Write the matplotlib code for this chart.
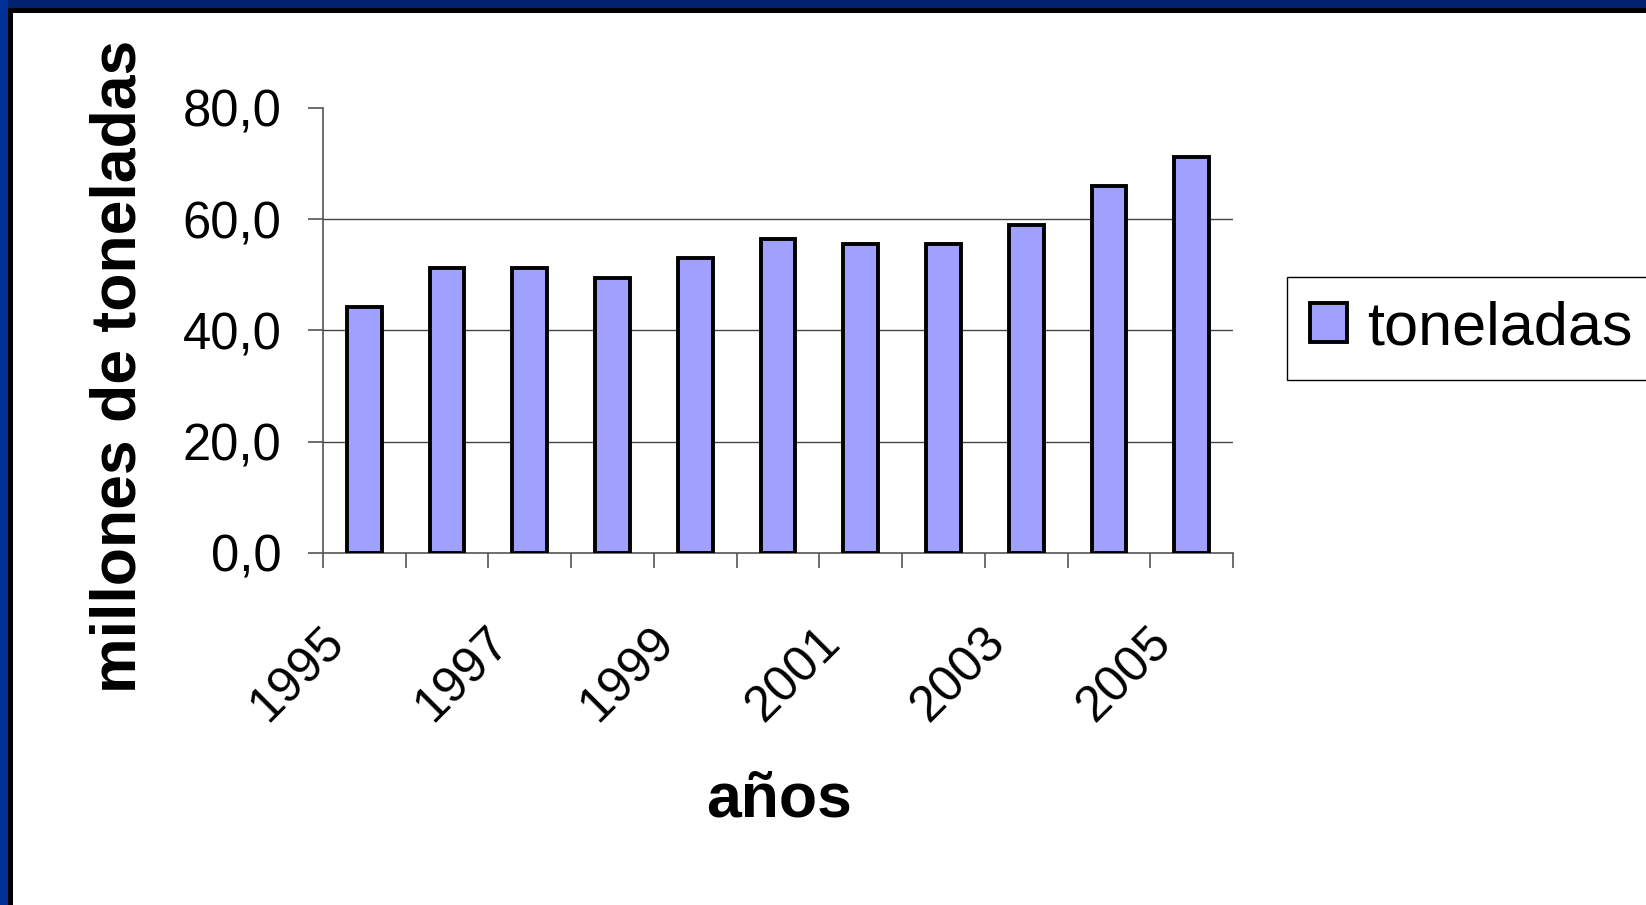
import matplotlib
matplotlib.use("Agg")
import matplotlib.pyplot as plt
from matplotlib.patches import Rectangle
import matplotlib.transforms as mtransforms

years = [1995, 1996, 1997, 1998, 1999, 2000, 2001, 2002, 2003, 2004, 2005]
toneladas = [44.3, 51.3, 51.3, 49.5, 53.0, 56.4, 55.5, 55.5, 58.9, 65.9, 71.2]
yticks = [0, 20, 40, 60, 80]
ytick_labels = ["0,0", "20,0", "40,0", "60,0", "80,0"]
xlabel_years = [1995, 1997, 1999, 2001, 2003, 2005]

plt.rcParams['font.family'] = ['Liberation Sans', 'DejaVu Sans']

W, H = 1646, 905
fig = plt.figure(figsize=(W / 100, H / 100), dpi=100)
fig.patch.set_facecolor('white')

ax = fig.add_axes([323 / W, 1 - 553 / H, (1233 - 323) / W, (553 - 108) / H])
x = list(range(len(years)))
ax.bar(x, toneladas, width=0.42, color='#A0A0FF', edgecolor='black',
       linewidth=2.8, label='toneladas', zorder=3)

ax.set_xlim(-0.5, len(years) - 0.5)
ax.set_ylim(0, 80)
ax.set_yticks(yticks)
ax.set_yticklabels(ytick_labels, fontsize=36.5)
for y in yticks[1:-1]:
    ax.axhline(y, color='#444444', linewidth=1.0, zorder=1)

for s in ['top', 'right']:
    ax.spines[s].set_visible(False)
ax.spines['left'].set_color('#555555')
ax.spines['bottom'].set_color('#555555')
ax.spines['left'].set_linewidth(1.2)
ax.spines['bottom'].set_linewidth(1.2)
ax.tick_params(axis='y', direction='out', length=11, width=1.2, color='#555555', pad=19)

bounds = [i - 0.5 for i in range(len(years) + 1)]
ax.set_xticks(bounds)
ax.set_xticklabels([])
ax.tick_params(axis='x', direction='out', length=11, width=1.2, color='#555555')

trans = mtransforms.offset_copy(ax.get_xaxis_transform(), fig=fig, x=-28, y=-82, units='dots')
for yr in xlabel_years:
    i = years.index(yr)
    ax.text(i, 0, str(yr), transform=trans, rotation=45, ha='right', va='center',
            rotation_mode='anchor', fontsize=36)

fig.text(119 / W, 1 - 366 / H, 'millones de toneladas', rotation=90, ha='center',
         va='center', fontsize=45, fontweight='bold')
fig.text(779 / W, 1 - 800 / H, 'años', ha='center', va='center', fontsize=45,
         fontweight='bold')

leg = ax.legend(loc='upper left', bbox_to_anchor=(1287 / W, 1 - 277 / H),
                bbox_transform=fig.transFigure, borderaxespad=0, fontsize=44,
                handlelength=0.6, handleheight=0.6, handletextpad=0.33,
                borderpad=0.38, fancybox=False, framealpha=1)
leg.get_frame().set_edgecolor('black')
leg.get_frame().set_linewidth(1.0)

# border
fig.add_artist(Rectangle((0, 1 - 8 / H), 1, 8 / H, transform=fig.transFigure,
                         facecolor='#002270', edgecolor='none', zorder=10))
fig.add_artist(Rectangle((0, 0), 8 / W, 1, transform=fig.transFigure,
                         facecolor='#00309A', edgecolor='none', zorder=10))
fig.add_artist(Rectangle((8 / W, 1 - 13 / H), 1, 5 / H, transform=fig.transFigure,
                         facecolor='black', edgecolor='none', zorder=10))
fig.add_artist(Rectangle((8 / W, 0), 5 / W, 1 - 8 / H, transform=fig.transFigure,
                         facecolor='black', edgecolor='none', zorder=10))

fig.savefig('out.png', dpi=100)
